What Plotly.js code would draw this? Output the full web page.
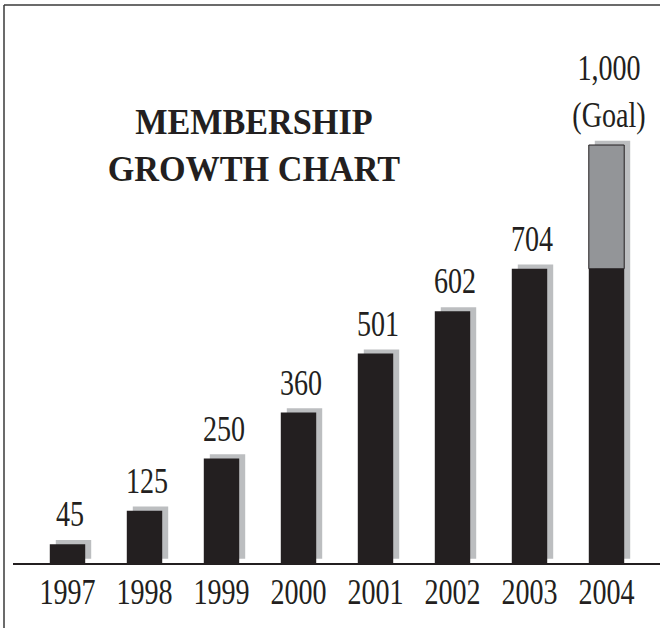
<!DOCTYPE html>
<html>
<head>
<meta charset="utf-8">
<script src="https://cdn.plot.ly/plotly-3.0.1.min.js"></script>
<style>
  html, body { margin: 0; padding: 0; background: #ffffff; }
  #chart { width: 660px; height: 628px; }
</style>
</head>
<body>
<div id="chart"></div>
<script>
// ---- data ----
const years = ['1997', '1998', '1999', '2000', '2001', '2002', '2003', '2004'];
const members = [45, 125, 250, 360, 501, 602, 704, 704];
const goal = [null, null, null, null, null, null, null, 1000];
const valueLabels = ['45', '125', '250', '360', '501', '602', '704', '1,000<br>(Goal)'];
const titleLines = ['MEMBERSHIP', 'GROWTH CHART'];

// ---- layout constants ----
const W = 660, H = 628;
const M = { l: 13, r: 0, t: 20, b: 65 };
const plotW = W - M.l - M.r, plotH = H - M.t - M.b;
const pxPerUnit = 0.418;
const yMax = plotH / pxPerUnit;
const catPx = 77, firstCenterPx = 67.5;
const xRange = [(M.l - firstCenterPx) / catPx, (W - M.r - firstCenterPx) / catPx];
const barW = 0.46;
const shadowDx = 6 / catPx;
const shadowBase = 10;

const px2paperX = p => (p - M.l) / plotW;
const px2paperY = p => (H - M.b - p) / plotH;

const INK = '#231f20';
const SERIF = 'Liberation Serif, Times New Roman, serif';

const tops = members.map((m, i) => goal[i] != null ? goal[i] : m);
const goalExtra = members.map((m, i) => goal[i] != null ? goal[i] - m : null);

const traces = [
  { type: 'bar', x: years, y: tops, base: shadowBase, width: barW, offset: -barW / 2 + shadowDx,
    marker: { color: '#bcbec0' }, hoverinfo: 'skip', showlegend: false },
  { type: 'bar', x: years, y: members, width: barW, offset: -barW / 2,
    marker: { color: INK }, hoverinfo: 'skip', showlegend: false },
  { type: 'bar', x: years, y: goalExtra, base: members, width: barW, offset: -barW / 2,
    marker: { color: '#939598', line: { color: INK, width: 1 } }, hoverinfo: 'skip', showlegend: false }
];

// category axis: annotation x given as category index
const annotations = years.map((yr, i) => ({
  x: i, y: tops[i], xref: 'x', yref: 'y', text: valueLabels[i],
  showarrow: false, yanchor: 'bottom', xanchor: 'center', yshift: 8, xshift: 2,
  font: { family: SERIF, size: 36, color: INK }
}));
annotations.push({
  xref: 'paper', yref: 'paper', x: px2paperX(254), y: px2paperY(145),
  text: titleLines.join('<br>'), showarrow: false, xanchor: 'center', yanchor: 'middle',
  font: { family: SERIF, size: 36, color: INK, weight: 'bold' }
});

const shapes = [
  { type: 'line', xref: 'paper', yref: 'paper', x0: px2paperX(4), x1: px2paperX(W + 2),
    y0: px2paperY(5), y1: px2paperY(5), line: { color: '#3a3a3a', width: 1.5 } },
  { type: 'line', xref: 'paper', yref: 'paper', x0: px2paperX(4), x1: px2paperX(4),
    y0: px2paperY(5), y1: px2paperY(H + 2), line: { color: '#3a3a3a', width: 1.5 } }
];

const layout = {
  width: W, height: H, margin: M,
  paper_bgcolor: '#ffffff', plot_bgcolor: '#ffffff',
  barmode: 'overlay', showlegend: false,
  xaxis: { type: 'category', range: xRange, showline: true, linecolor: INK, linewidth: 1.5,
    ticks: '', showgrid: false, zeroline: false, fixedrange: true, ticklabelstandoff: -4,
    tickfont: { family: SERIF, size: 36, color: INK } },
  yaxis: { range: [0, yMax], visible: false, fixedrange: true },
  annotations: annotations, shapes: shapes
};

function condense(el, f) {
  const lines = el.querySelectorAll('tspan.line');
  const targets = lines.length ? Array.from(lines) : [el];
  targets.forEach(t => {
    const L = t.getComputedTextLength();
    if (L > 0) {
      t.setAttribute('textLength', (L * f).toFixed(2));
      t.setAttribute('lengthAdjust', 'spacingAndGlyphs');
    }
  });
}

Plotly.newPlot('chart', traces, layout, { staticPlot: true, displayModeBar: false }).then(gd => {
  gd.querySelectorAll('.annotation-text').forEach(el => {
    const isTitle = el.textContent.indexOf('MEMBERSHIP') >= 0;
    condense(el, isTitle ? 0.95 : 0.78);
  });
  gd.querySelectorAll('.xtick text').forEach(el => condense(el, 0.78));
});
</script>
</body>
</html>
